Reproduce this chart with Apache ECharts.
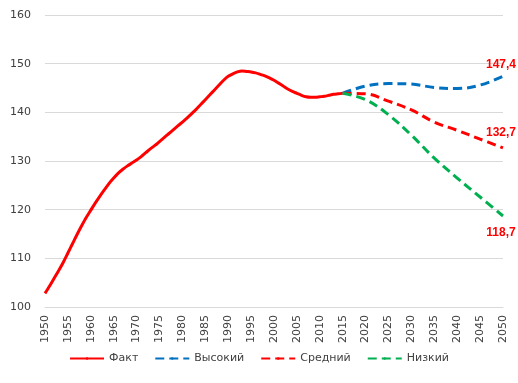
<!DOCTYPE html>
<html>
<head>
<meta charset="utf-8">
<script src="https://cdn.jsdelivr.net/npm/echarts@6/dist/echarts.min.js"></script>
<style>html,body{margin:0;padding:0;background:#fff}#c{width:518px;height:383px}</style>
</head>
<body>
<div id="c"></div>
<script>
var factYears = [];
for (var y = 1950; y <= 2015; y++) factYears.push(y);
var factValues = [102.8,104.3,105.9,107.5,109.2,111.1,113.0,114.9,116.7,118.4,
  119.9,121.4,122.8,124.1,125.4,126.5,127.5,128.3,129.0,129.6,
  130.2,130.9,131.7,132.5,133.2,134.0,134.8,135.6,136.4,137.2,
  138.0,138.8,139.7,140.6,141.6,142.6,143.6,144.6,145.6,146.6,
  147.4,147.9,148.3,148.5,148.4,148.3,148.1,147.8,147.5,147.1,
  146.6,146.0,145.4,144.8,144.3,143.9,143.5,143.2,143.1,143.1,
  143.2,143.3,143.5,143.7,143.8,143.9];
var projYears = [2015,2020,2025,2030,2035,2040,2045,2050];
var highValues = [143.9,145.4,145.9,145.8,145.1,144.9,145.6,147.4];
var mediumValues = [143.9,143.8,142.3,140.5,138.0,136.3,134.5,132.7];
var lowValues = [143.9,142.6,139.5,135.3,130.6,126.5,122.6,118.7];
var seriesNames = ['Факт','Высокий','Средний','Низкий'];
var yTicks = [100,110,120,130,140,150,160];

function pairs(xs, vs) {
  return xs.map(function (x, i) { return [x, vs[i]]; });
}
function endLabel(vs, dy) {
  return {
    show: true,
    formatter: String(vs[vs.length - 1]).replace('.', ','),
    color: '#FF0000', fontWeight: 'bold', fontSize: 12,
    fontFamily: 'Liberation Sans',
    distance: 0, align: 'center', verticalAlign: 'middle',
    offset: [-2, dy]
  };
}

var chart = echarts.init(document.getElementById('c'));
chart.setOption({
  animation: false,
  textStyle: { fontFamily: 'DejaVu Sans' },
  grid: { left: 45, right: 15, top: 15, bottom: 76 },
  legend: {
    bottom: 14, left: 'center', itemWidth: 34, itemHeight: 3, itemGap: 16,
    textStyle: { fontSize: 11, color: '#404040', fontFamily: 'DejaVu Sans' },
    data: seriesNames
  },
  xAxis: {
    type: 'value', min: 1950, max: 2050, interval: 5,
    axisLine: { show: true, lineStyle: { color: '#D9D9D9' } },
    axisTick: { show: false },
    splitLine: { show: false },
    axisLabel: { rotate: 90, margin: 8, fontSize: 11, color: '#404040', fontFamily: 'DejaVu Sans',
      formatter: function (v) { return String(v); } }
  },
  yAxis: {
    type: 'value', min: yTicks[0], max: yTicks[yTicks.length - 1], interval: 10,
    axisLine: { show: false }, axisTick: { show: false },
    splitLine: { lineStyle: { color: '#D9D9D9', width: 1 } },
    axisLabel: { margin: 14, fontSize: 11, color: '#404040', fontFamily: 'DejaVu Sans' }
  },
  series: [
    { name: seriesNames[0], type: 'line', smooth: 0.3, symbol: 'none', z: 3,
      lineStyle: { color: '#FF0000', width: 3 }, itemStyle: { color: '#FF0000' },
      data: pairs(factYears, factValues) },
    { name: seriesNames[1], type: 'line', smooth: 0.4, symbol: 'none',
      lineStyle: { color: '#0070C0', width: 3, type: [9, 5] }, itemStyle: { color: '#0070C0' },
      endLabel: endLabel(highValues, -12),
      data: pairs(projYears, highValues) },
    { name: seriesNames[2], type: 'line', smooth: 0.4, symbol: 'none',
      lineStyle: { color: '#FF0000', width: 3, type: [9, 5] }, itemStyle: { color: '#FF0000' },
      endLabel: endLabel(mediumValues, -15),
      data: pairs(projYears, mediumValues) },
    { name: seriesNames[3], type: 'line', smooth: 0.4, symbol: 'none',
      lineStyle: { color: '#00B050', width: 3, type: [9, 5] }, itemStyle: { color: '#00B050' },
      endLabel: endLabel(lowValues, 17),
      data: pairs(projYears, lowValues) }
  ]
});
</script>
</body>
</html>
